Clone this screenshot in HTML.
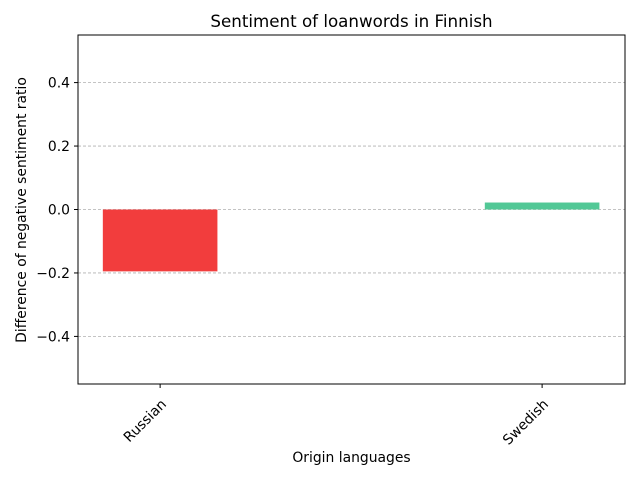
<!DOCTYPE html>
<html><head><meta charset="utf-8"><style>
body{margin:0;background:#fff;}
svg{display:block;font-family:"DejaVu Sans","Liberation Sans",sans-serif;}
</style></head><body>
<svg id="chart" width="640" height="480">
<rect x="0" y="0" width="640" height="480" fill="#fff"/>
<g id="grid"></g>
<g id="bars"></g>
<rect x="78" y="35" width="547" height="349" fill="none" stroke="#000" stroke-width="1"/>
<g id="yticks"></g>
<g id="xticks"></g>
<text x="351.5" y="27" text-anchor="middle" font-size="16.7">Sentiment of loanwords in Finnish</text>
<text x="351.5" y="462" text-anchor="middle" font-size="13.9">Origin languages</text>
<text transform="translate(26,210) rotate(-90)" text-anchor="middle" font-size="13.9">Difference of negative sentiment ratio</text>
</svg>
<script>
const categories = ["Russian", "Swedish"];
const values = [-0.195, 0.022];
const colors = ["#f23d3d", "#52c896"];
const yTicks = [-0.4, -0.2, 0.0, 0.2, 0.4];
const yTickLabels = ["\u22120.4", "\u22120.2", "0.0", "0.2", "0.4"];

const ns = "http://www.w3.org/2000/svg";
const L = 78, R = 625, T = 35, B = 384;
const yMin = -0.55, yMax = 0.55, xMin = -0.215, xMax = 1.217, barW = 0.3;
const y = v => T + (yMax - v) / (yMax - yMin) * (B - T);
const x = v => L + (v - xMin) / (xMax - xMin) * (R - L);
function mk(tag, attrs, parent) { const e = document.createElementNS(ns, tag); for (const k in attrs) e.setAttribute(k, attrs[k]); document.getElementById(parent).appendChild(e); return e; }

yTicks.forEach((t, i) => {
  const g = mk("line", {x1: L, x2: R, y1: y(t), y2: y(t), stroke: "#b0b0b0", "stroke-dasharray": "3,2", "stroke-width": 0.8}, "grid");
  
  
  const tk = mk("line", {x1: L - 4, x2: L, y1: y(t), y2: y(t), stroke: "#000"}, "yticks");
  
  
  const tl = mk("text", {x: L - 8, y: y(t) + 5, "text-anchor": "end", "font-size": 13.9}, "yticks");
  tl.textContent = yTickLabels[i];
  
  
});

categories.forEach((c, i) => {
  const v = values[i];
  const r = mk("rect", {x: x(i - barW / 2), width: x(i + barW / 2) - x(i - barW / 2), y: Math.min(y(v), y(0)), height: Math.abs(y(v) - y(0)), fill: colors[i]}, "bars");
  
  
  const tk = mk("line", {x1: x(i), x2: x(i), y1: B, y2: B + 4, stroke: "#000"}, "xticks");
  
  
  const tl = mk("text", {x: 0, y: 0, "text-anchor": "end", "font-size": 13.9, transform: "translate(" + (x(i) + 7) + "," + (B + 21) + ") rotate(-45)"}, "xticks");
  tl.textContent = c;
  
  
});
</script>
</body></html>
